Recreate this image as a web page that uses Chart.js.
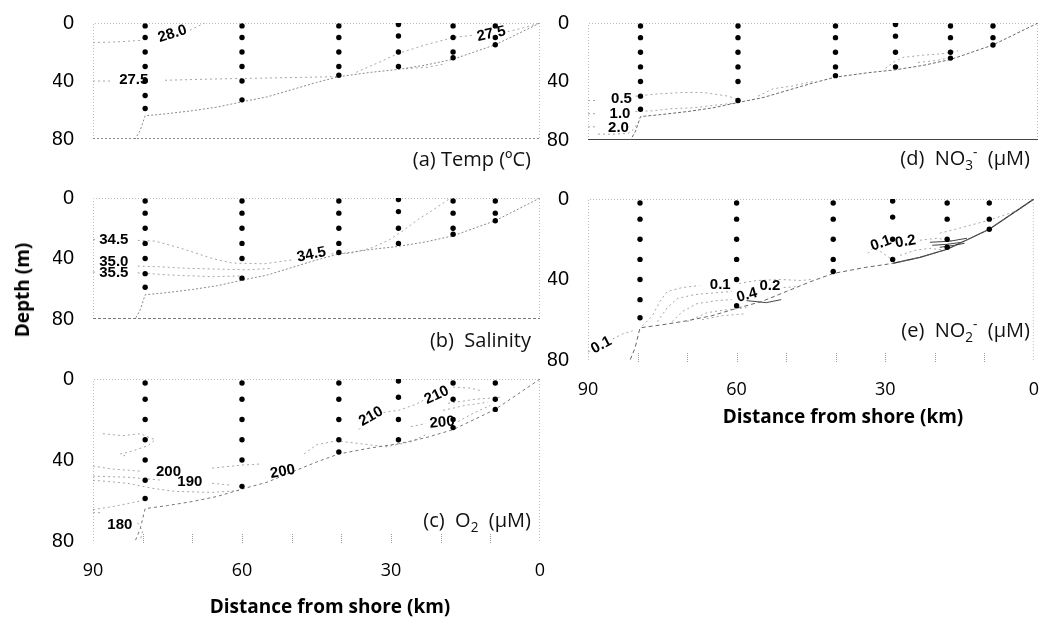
<!DOCTYPE html>
<html>
<head>
<meta charset="utf-8">
<title>Cross-shelf sections</title>
<script src="https://cdn.jsdelivr.net/npm/chart.js@4.4.1/dist/chart.umd.min.js"></script>
<style>
  html, body { margin: 0; padding: 0; background: #fff; }
  #page { position: relative; width: 1050px; height: 622px; overflow: hidden; }
  #page canvas { position: absolute; left: 0; top: 0; }
  .lbl {
    position: absolute; transform: translateY(-50%);
    font-family: "Open Sans", sans-serif; font-size: 20px; line-height: 1;
    color: #111; white-space: nowrap;
  }
  .lbl sub, .lbl sup { font-size: 68%; line-height: 0; }
  .ttl {
    position: absolute; transform: translate(-50%, -50%);
    font-family: "Open Sans", sans-serif; font-weight: bold; font-size: 19px;
    color: #000; white-space: nowrap;
  }
</style>
</head>
<body>
<div id="page">
  <canvas id="tempChart" width="1050" height="622"></canvas>
  <canvas id="saltChart" width="1050" height="622"></canvas>
  <canvas id="oxyChart" width="1050" height="622"></canvas>
  <canvas id="nitrateChart" width="1050" height="622"></canvas>
  <canvas id="nitriteChart" width="1050" height="622"></canvas>

  <div class="lbl" style="right:519px; top:159px">(a)&nbsp;Temp (ºC)</div>
  <div class="lbl" style="right:519px; top:340px">(b)&nbsp; Salinity</div>
  <div class="lbl" style="right:519px; top:520px">(c)&nbsp; O<sub>2</sub>&nbsp; (µM)</div>
  <div class="lbl" style="right:20px; top:158px">(d)&nbsp; NO<sub>3</sub><sup>-</sup>&nbsp; (µM)</div>
  <div class="lbl" style="right:20px; top:330px">(e)&nbsp; NO<sub>2</sub><sup>-</sup>&nbsp; (µM)</div>

  <div class="ttl" style="left:22px; top:290px; transform:translate(-50%,-50%) rotate(-90deg)">Depth (m)</div>
  <div class="ttl" style="left:330px; top:606px">Distance from shore (km)</div>
  <div class="ttl" style="left:843px; top:416px">Distance from shore (km)</div>
</div>

<script>
// Stations (km from shore) and the depths sampled at each one (m)
const stationKm = [79.5, 60, 40.5, 28.5, 17.5, 9];
const sampleDepths = [
    [2, 10, 20, 30, 40, 50, 59],
    [2, 10, 20, 30, 40, 53],
    [2, 10, 20, 30, 36],
    [1, 9, 20, 30],
    [2, 10, 20, 24],
    [2, 10, 15]
];

// Sea floor along the section
const bottomKm    = [0, 9, 17.5, 23, 28.5, 34, 40.5, 45, 50, 55, 59.5, 65, 70, 75, 79.5, 80.5, 81.5];
const bottomDepth = [0, 15, 25, 29, 32, 34, 37, 41, 46, 51, 54, 58, 60.5, 62.5, 64, 74, 80];

// Axis ticks
const kmTicks = [90, 60, 30, 0];
const depthTicks = [0, 40, 80];

// Contour pieces, [km, depth]; gaps are left where the labels sit
const tempLines = [
    [[90, 13.5], [85, 13], [80.5, 12]],
    [[70.5, 5], [67.5, 0]],
    [[90, 40], [86, 40]],
    [[75.5, 39.5], [70, 39], [64, 38.5], [56, 38], [48, 37.5], [41, 37]],
    [[37, 34], [33, 28], [28.5, 21], [23, 15], [17.5, 10], [13.5, 8.5]],
    [[6.5, 6], [3, 3], [0, 0]],
    [[27, 31.5], [22.5, 30.5], [19, 28]]
];
const tempLabels = [['28.0', 74, 7.5, -18], ['27.5', 81.8, 39.5, 0], ['27.5', 9.8, 7.6, -12]];

const saltLines = [
    [[90, 27.5], [89, 27.5]],
    [[81, 28], [77.5, 28.5], [72.5, 33], [66, 40], [62, 43], [55.5, 43.5], [50, 41]],
    [[42, 37], [38, 36.5], [34, 33], [30.5, 28], [27.5, 21.5], [24.5, 14], [21.8, 8.5], [18, 0]],
    [[81, 45], [76.5, 45.5], [71, 46.5], [65, 47], [59, 47.5], [54, 46.5]],
    [[90, 49], [89, 49]],
    [[81, 49.5], [74, 51], [66, 52], [60, 51.5]]
];
const saltLabels = [['34.5', 85.8, 27.5, 0], ['35.0', 85.8, 42.3, 0], ['35.5', 85.8, 49.3, 0], ['34.5', 46, 37.5, -12]];

const oxyLines = [
    [[88, 27], [84, 28], [80.5, 27], [77.5, 30], [79, 33], [82, 35.5], [84.5, 37], [83, 38.5]],
    [[90, 43], [86, 44.5], [80.5, 45.5]],
    [[66, 44], [60, 42.5], [56.5, 42]],
    [[47.5, 37], [45, 32.5], [41, 30.5], [36, 32], [31, 33.5], [26, 31], [22.5, 27]],
    [[90, 48], [83, 48.5], [76, 50]],
    [[90, 50], [83, 51.5], [78, 54], [73.5, 55.5], [66, 56], [60, 55]],
    [[66, 51.5], [62, 52.5]],
    [[36.5, 25], [35.5, 22.5]],
    [[31.5, 16.5], [28.5, 15.5], [25, 12.5], [23.5, 10.5]],
    [[17.5, 4], [14, 4.5], [11.5, 6]],
    [[26, 23.5], [23, 22]],
    [[16.5, 21], [13.5, 17], [10, 13]],
    [[19.5, 15.5], [15, 13], [10.5, 11.5]],
    [[18.5, 12], [13, 10], [8, 9]],
    [[90, 64.5], [86, 63], [82, 61], [80, 60]],
    [[81, 71], [80, 75], [80.5, 80]],
    [[90, 66], [88, 66]]
];
const oxyLabels = [
    ['210', 34, 18.5, -30], ['210', 20.8, 8, -25], ['200', 19.7, 21.5, -5],
    ['200', 74.8, 45.8, 0], ['190', 70.5, 51, 0], ['200', 51.8, 45.8, -10], ['180', 84.6, 72, 0]
];

const nitrateLines = [
    [[90, 53], [88.5, 53]],
    [[80.5, 50], [76, 48.5], [71, 47.5], [67, 47.5], [62, 50], [59.5, 53]],
    [[90, 62], [88.5, 62]],
    [[80.5, 60.5], [77, 60], [73, 58.5], [69, 58], [64, 56], [60, 54.5]],
    [[56, 50], [53, 45], [49, 43], [45, 40]],
    [[90, 71], [88.5, 71]],
    [[88, 76], [85, 76], [82, 75.5], [81, 73], [80, 68]],
    [[30.5, 31], [29, 27], [27, 23.5], [23, 22], [19, 21], [16, 19]],
    [[24, 27], [20, 25.5], [17.5, 23.5]]
];
const nitrateLabels = [['0.5', 83.3, 52, 0], ['1.0', 83.6, 62, 0], ['2.0', 83.9, 72, 0]];

const nitriteLines = [
    [[79, 63], [77, 58], [75.5, 51], [74, 46], [71, 44], [67.5, 43]],
    [[59.5, 42], [56, 40.5], [51, 40], [47, 40.5], [45, 40]],
    [[76, 61], [74, 54], [72, 49.5], [68.5, 47.5], [64, 46.5], [61, 46]],
    [[50.5, 44], [47.5, 43.5]],
    [[73, 61], [71, 56], [68, 52], [64, 50.5], [61, 50]],
    [[70, 61], [66, 56.5], [62, 55], [58, 54]],
    [[67, 60], [63, 58], [58, 57]],
    [[90, 76], [89.5, 75.5]],
    [[85, 69.5], [83, 67], [81, 65.5]],
    [[33.5, 27], [32.5, 24.5], [31, 26], [29, 29.5]],
    [[27, 28], [24, 25.5], [21, 24.5], [18, 25.5]],
    [[23, 20.5], [19.5, 19.5], [16, 21]],
    [[19, 17], [15, 14.5], [9, 10.5], [3, 5.5], [0, 0]]
];
const nitriteDark = [
    [[58, 50.5], [54, 51.5], [51, 50]],
    [[20.5, 23], [17.5, 22.5], [14.5, 21.5]],
    [[21, 21.5], [17, 21], [13.5, 19.5]],
    [[19, 24], [16, 23], [14, 22]]
];
const nitriteLabels = [
    ['0.1', 30.9, 22, -20], ['0.2', 25.9, 21.2, -10], ['0.1', 63.3, 42.8, 0],
    ['0.2', 53.3, 43.3, 0], ['0.4', 57.9, 47.8, -15], ['0.1', 87.3, 72.6, -28]
];

const PAGE_W = 1050, PAGE_H = 622;
const Y_AXIS_W = 40, X_AXIS_H = 40;

function pts(list) {
    return list.map(p => ({ x: p[0], y: p[1] }));
}

function stationPoints() {
    const out = [];
    stationKm.forEach((km, i) => sampleDepths[i].forEach(d => out.push({ x: km, y: d })));
    return out;
}

function bottomPoints(fromIdx, toIdx) {
    return bottomKm.slice(fromIdx, toIdx).map((km, i) => ({ x: km, y: bottomDepth[fromIdx + i] }));
}

// Plot frame: faint dotted box, bottom edge styled per panel, short marks every 10 km
function framePlugin(cfg) {
    return {
        id: 'frame',
        beforeDatasetsDraw(chart) {
            const { ctx, chartArea: a } = chart;
            ctx.save();
            ctx.lineWidth = 1;
            ctx.strokeStyle = '#bdbdbd';
            ctx.setLineDash([1, 2]);
            ctx.beginPath();
            ctx.moveTo(a.left + 0.5, a.bottom);
            ctx.lineTo(a.left + 0.5, a.top + 0.5);
            ctx.lineTo(a.right - 0.5, a.top + 0.5);
            ctx.lineTo(a.right - 0.5, a.bottom);
            ctx.stroke();

            ctx.strokeStyle = cfg.bottomColor;
            ctx.setLineDash(cfg.bottomDash);
            ctx.beginPath();
            ctx.moveTo(a.left, a.bottom - 0.5);
            ctx.lineTo(a.right, a.bottom - 0.5);
            ctx.stroke();

            if (cfg.marks) {
                const xs = chart.scales.x;
                ctx.strokeStyle = '#9a9a9a';
                ctx.setLineDash([1, 1]);
                for (let km = 10; km <= 80; km += 10) {
                    const px = Math.round(xs.getPixelForValue(km)) + 0.5;
                    ctx.beginPath();
                    ctx.moveTo(px, a.bottom - 7);
                    ctx.lineTo(px, a.bottom + 3);
                    ctx.stroke();
                }
            }
            ctx.restore();
        }
    };
}

// Contour value labels placed at (km, depth)
function labelPlugin(labels) {
    return {
        id: 'contourLabels',
        afterDatasetsDraw(chart) {
            const { ctx, scales } = chart;
            ctx.save();
            ctx.fillStyle = '#000';
            ctx.font = 'bold 15px "Liberation Sans", Arial, sans-serif';
            ctx.textAlign = 'center';
            ctx.textBaseline = 'middle';
            labels.forEach(([text, km, depth, angle]) => {
                ctx.save();
                ctx.translate(scales.x.getPixelForValue(km), scales.y.getPixelForValue(depth));
                ctx.rotate(angle * Math.PI / 180);
                ctx.fillText(text, 0, 0);
                ctx.restore();
            });
            ctx.restore();
        }
    };
}

function lineSet(list, color, dash) {
    return list.map(line => ({
        data: pts(line),
        showLine: true,
        pointRadius: 0,
        borderColor: color,
        borderWidth: 1,
        borderDash: dash,
        tension: 0
    }));
}

function makePanel(id, box, cfg) {
    const datasets = [
        {
            data: stationPoints(),
            showLine: false,
            pointRadius: 2.7,
            pointBackgroundColor: '#000',
            pointBorderColor: '#000',
            pointBorderWidth: 0
        },
        {
            data: bottomPoints(0, bottomKm.length),
            showLine: true,
            pointRadius: 0,
            borderColor: cfg.floorColor,
            borderWidth: 1,
            borderDash: cfg.floorDash,
            tension: 0
        }
    ];
    if (cfg.floorSolid) {
        datasets.push({
            data: bottomPoints(0, cfg.floorSolid),
            showLine: true,
            pointRadius: 0,
            borderColor: '#333',
            borderWidth: 1.2,
            tension: 0
        });
    }
    datasets.push(...lineSet(cfg.dark || [], '#444', []));
    datasets.push(...lineSet(cfg.lines, '#a6a6a6', [2, 3]));

    new Chart(document.getElementById(id), {
        type: 'scatter',
        data: { datasets },
        options: {
            responsive: false,
            animation: false,
            devicePixelRatio: 1,
            layout: {
                padding: {
                    left: box.left - Y_AXIS_W,
                    top: box.top,
                    right: PAGE_W - box.right,
                    bottom: PAGE_H - box.bottom - (cfg.showX ? X_AXIS_H : 0)
                }
            },
            plugins: { legend: { display: false }, tooltip: { enabled: false } },
            scales: {
                x: {
                    type: 'linear',
                    min: 0,
                    max: 90,
                    reverse: true,
                    display: cfg.showX,
                    grid: { display: false },
                    border: { display: false },
                    afterBuildTicks: s => { s.ticks = kmTicks.map(v => ({ value: v })); },
                    afterFit: s => { s.height = X_AXIS_H; },
                    ticks: {
                        padding: 11,
                        color: '#000',
                        font: { family: '"Open Sans", sans-serif', size: 18 }
                    }
                },
                y: {
                    type: 'linear',
                    min: 0,
                    max: 80,
                    reverse: true,
                    grid: { display: false },
                    border: { display: false },
                    afterBuildTicks: s => { s.ticks = depthTicks.map(v => ({ value: v })); },
                    afterFit: s => { s.width = Y_AXIS_W; },
                    ticks: {
                        padding: 11,
                        color: '#000',
                        font: { family: '"Liberation Sans", Arial, sans-serif', size: 20 }
                    }
                }
            }
        },
        plugins: [framePlugin(cfg), labelPlugin(cfg.labels)]
    });
}

makePanel('tempChart', { left: 93, right: 540, top: 18, bottom: 179 }, {
    lines: tempLines, labels: tempLabels, showX: false,
    floorColor: '#8a8a8a', floorDash: [2, 2],
    bottomColor: '#8a8a8a', bottomDash: [2, 2]
});
makePanel('saltChart', { left: 93, right: 540, top: 198, bottom: 359 }, {
    lines: saltLines, labels: saltLabels, showX: false,
    floorColor: '#8a8a8a', floorDash: [2, 2],
    bottomColor: '#7a7a7a', bottomDash: [3, 2]
});
makePanel('oxyChart', { left: 93, right: 540, top: 379, bottom: 541 }, {
    lines: oxyLines, labels: oxyLabels, showX: true, marks: true,
    floorColor: '#777', floorDash: [3, 3],
    bottomColor: 'rgba(0,0,0,0)', bottomDash: []
});
makePanel('nitrateChart', { left: 588, right: 1038, top: 19, bottom: 180 }, {
    lines: nitrateLines, labels: nitrateLabels, showX: false,
    floorColor: '#6a6a6a', floorDash: [3, 2],
    bottomColor: '#444', bottomDash: []
});
makePanel('nitriteChart', { left: 588, right: 1038, top: 199, bottom: 360 }, {
    lines: nitriteLines, dark: nitriteDark, labels: nitriteLabels, showX: true, marks: true,
    floorColor: '#666', floorDash: [4, 3], floorSolid: 5,
    bottomColor: 'rgba(0,0,0,0)', bottomDash: []
});
</script>
</body>
</html>
